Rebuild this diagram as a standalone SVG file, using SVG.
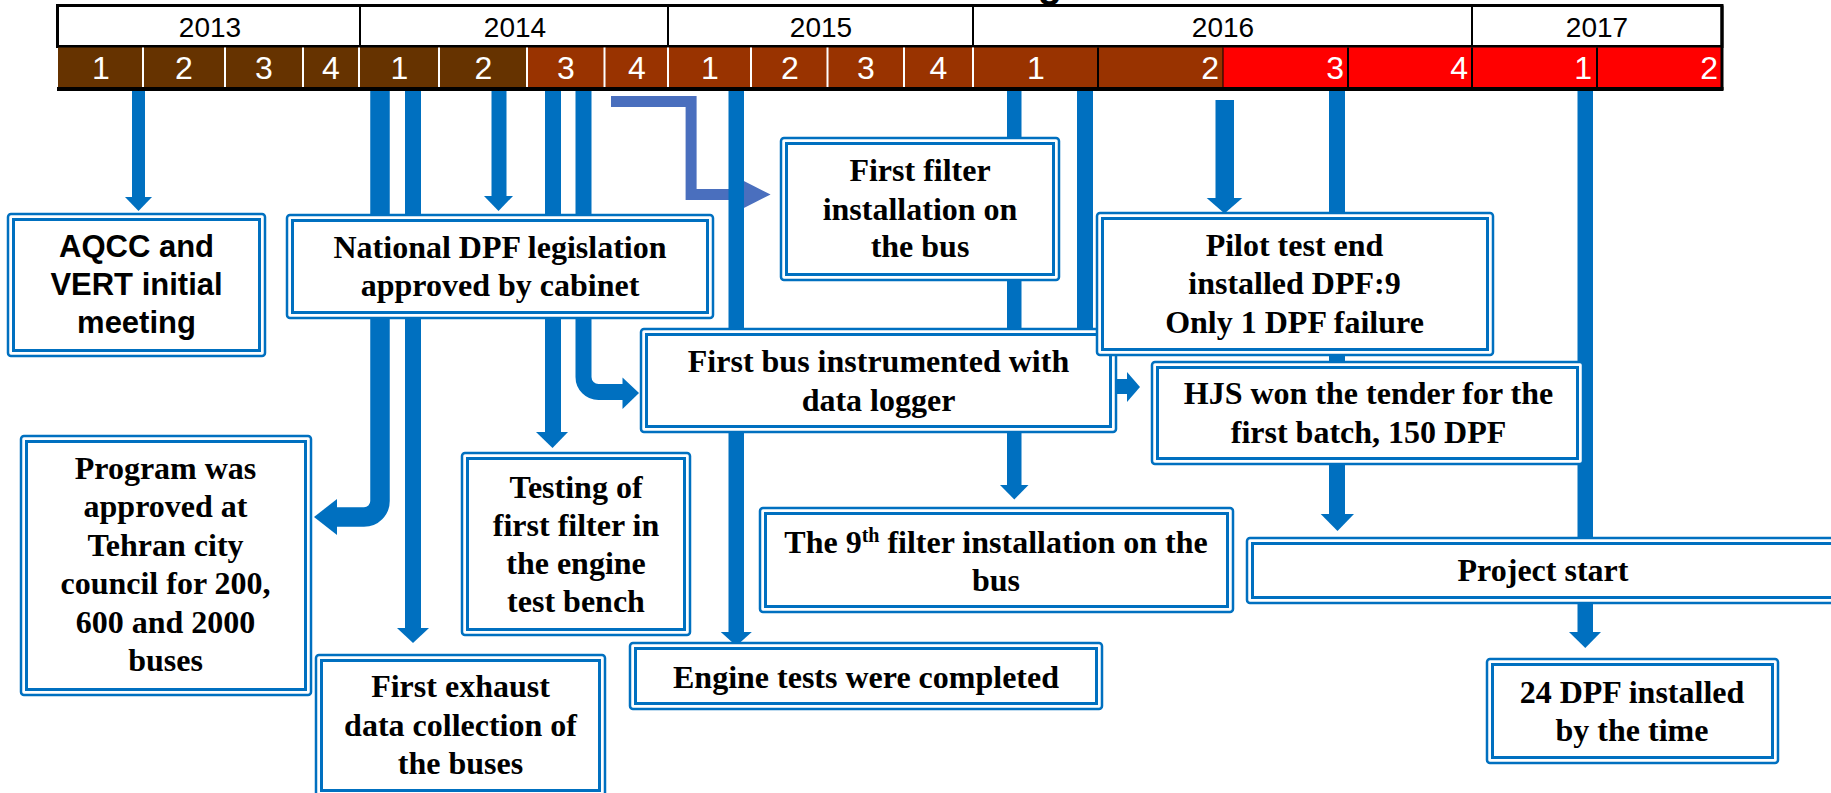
<svg xmlns="http://www.w3.org/2000/svg" width="1831" height="793" viewBox="0 0 1831 793">
<style>
.bo{fill:#fff;stroke:#0070C0;stroke-width:2.5}
.bi{fill:none;stroke:#0070C0;stroke-width:3}
.t{font-family:"Liberation Serif","Times New Roman",serif;font-weight:bold;font-size:32px;text-anchor:middle;fill:#000}
.ts{font-family:"Liberation Sans",Arial,sans-serif;font-weight:bold;font-size:31px;text-anchor:middle;fill:#000}
.yr{font-family:"Liberation Sans",Arial,sans-serif;font-size:28px;text-anchor:middle;fill:#000}
.q{font-family:"Liberation Sans",Arial,sans-serif;font-size:32px;text-anchor:middle;fill:#fff}
.qr{font-family:"Liberation Sans",Arial,sans-serif;font-size:32px;text-anchor:end;fill:#fff}
.c1{fill:#663300}.c2{fill:#993300}.c3{fill:#FF0000}
.bar{fill:#0070C0}
.cs{fill:none;stroke:#0070C0}
.wd{stroke:#fff;stroke-width:2}
.bd{stroke:#000;stroke-width:2}
</style>
<rect width="1831" height="793" fill="#fff"/>
<text x="1050" y="-3" style="font-family:'Liberation Sans',Arial,sans-serif;font-weight:bold;font-size:40px;text-anchor:middle">g</text>
<g id="header">
  <rect x="57.5" y="5.5" width="1664.5" height="41" fill="#fff" stroke="#000" stroke-width="3"/>
  <line x1="360" y1="5.5" x2="360" y2="46" class="bd"/>
  <line x1="668" y1="5.5" x2="668" y2="46" class="bd"/>
  <line x1="973" y1="5.5" x2="973" y2="46" class="bd"/>
  <line x1="1472" y1="5.5" x2="1472" y2="46" class="bd"/>
  <text class="yr" x="210" y="37">2013</text>
  <text class="yr" x="515" y="37">2014</text>
  <text class="yr" x="821" y="37">2015</text>
  <text class="yr" x="1223" y="37">2016</text>
  <text class="yr" x="1597" y="37">2017</text>
  <rect class="c1" x="58" y="47.5" width="469" height="40"/>
  <rect class="c2" x="527" y="47.5" width="696" height="40"/>
  <rect class="c3" x="1223" y="47.5" width="499" height="40"/>
  <g>
    <line x1="143" y1="47.5" x2="143" y2="87.5" class="wd"/>
    <line x1="225" y1="47.5" x2="225" y2="87.5" class="wd"/>
    <line x1="303" y1="47.5" x2="303" y2="87.5" class="wd"/>
    <line x1="359" y1="47.5" x2="359" y2="87.5" class="wd"/>
    <line x1="439" y1="47.5" x2="439" y2="87.5" class="wd"/>
    <line x1="527" y1="47.5" x2="527" y2="87.5" class="wd"/>
    <line x1="604.5" y1="47.5" x2="604.5" y2="87.5" class="wd"/>
    <line x1="668" y1="47.5" x2="668" y2="87.5" class="wd"/>
    <line x1="751" y1="47.5" x2="751" y2="87.5" class="wd"/>
    <line x1="827.5" y1="47.5" x2="827.5" y2="87.5" class="wd"/>
    <line x1="904" y1="47.5" x2="904" y2="87.5" class="wd"/>
    <line x1="973" y1="47.5" x2="973" y2="87.5" class="wd"/>
    <line x1="1098" y1="47.5" x2="1098" y2="87.5" class="bd"/>
    <line x1="1223" y1="47.5" x2="1223" y2="87.5" class="bd" style="stroke-width:1"/>
    <line x1="1348" y1="47.5" x2="1348" y2="87.5" class="bd"/>
    <line x1="1472" y1="47.5" x2="1472" y2="87.5" class="bd"/>
    <line x1="1597" y1="47.5" x2="1597" y2="87.5" class="bd"/>
    <line x1="1722" y1="5.5" x2="1722" y2="90" class="bd" style="stroke-width:3"/>
  </g>
  <rect x="57" y="87" width="1666.5" height="4" fill="#000"/>
  <text class="q" x="101" y="79">1</text>
  <text class="q" x="184" y="79">2</text>
  <text class="q" x="264" y="79">3</text>
  <text class="q" x="331" y="79">4</text>
  <text class="q" x="399.5" y="79">1</text>
  <text class="q" x="483.5" y="79">2</text>
  <text class="q" x="566" y="79">3</text>
  <text class="q" x="637" y="79">4</text>
  <text class="q" x="710" y="79">1</text>
  <text class="q" x="790" y="79">2</text>
  <text class="q" x="866" y="79">3</text>
  <text class="q" x="938.5" y="79">4</text>
  <text class="q" x="1036" y="79">1</text>
  <text class="qr" x="1219" y="79">2</text>
  <text class="qr" x="1344" y="79">3</text>
  <text class="qr" x="1468" y="79">4</text>
  <text class="qr" x="1592" y="79">1</text>
  <text class="qr" x="1718" y="79">2</text>
</g>
<g id="connectors">
  <polygon fill="#4A6FBE" points="611,96 696.6,96 696.6,189 738,189 738,178 770.6,194.5 738,211 738,200 685.6,200 685.6,107 611,107"/>
  <!-- AQCC -->
  <rect class="bar" x="132" y="91" width="13" height="107"/>
  <polygon class="bar" points="125,197 152,197 138.5,211"/>
  <!-- Program curved -->
  <path class="cs" stroke-width="19.5" d="M380 91 V501 A16 16 0 0 1 364 517 H335"/>
  <polygon class="bar" points="337,499 337,535 314,517"/>
  <!-- First exhaust -->
  <rect class="bar" x="405" y="91" width="16" height="538"/>
  <polygon class="bar" points="397,628 429,628 413,643"/>
  <!-- National -->
  <rect class="bar" x="491.5" y="91" width="15" height="106"/>
  <polygon class="bar" points="484,196 513,196 498.5,211"/>
  <!-- Testing -->
  <rect class="bar" x="545" y="91" width="16" height="342"/>
  <polygon class="bar" points="536,432 568,432 552.5,448"/>
  <!-- First bus curved -->
  <path class="cs" stroke-width="16" d="M583.5 91 V377 A15 15 0 0 0 598.5 392 H625"/>
  <polygon class="bar" points="622.5,377.5 622.5,409 639,393"/>
  <!-- Engine tests -->
  <rect class="bar" x="728.5" y="91" width="15.5" height="542"/>
  <polygon class="bar" points="720.8,632 751.8,632 736.3,646"/>
  <!-- 9th filter -->
  <rect class="bar" x="1007" y="91" width="14.5" height="395"/>
  <polygon class="bar" points="1000,485 1028.5,485 1014.3,499.5"/>
  <!-- First bus / HJS -->
  <rect class="bar" x="1077" y="91" width="16" height="250"/>
  <rect class="bar" x="1113" y="379" width="15" height="15"/>
  <polygon class="bar" points="1127,372 1127,402 1140,387"/>
  <!-- Pilot -->
  <rect class="bar" x="1215.5" y="100" width="18.5" height="99"/>
  <polygon class="bar" points="1206.7,198 1242.3,198 1224.5,213.5"/>
  <!-- Project start -->
  <rect class="bar" x="1329" y="91" width="16" height="425"/>
  <polygon class="bar" points="1320.7,514 1354,514 1337.5,531"/>
  <!-- 24 DPF -->
  <rect class="bar" x="1577.5" y="91" width="15.5" height="542"/>
  <polygon class="bar" points="1569,632 1601,632 1585.3,648"/>
</g>
<g id="n-aqcc">
  <rect class="bo" x="8" y="214" width="257" height="142" rx="3"/>
  <rect class="bi" x="13.5" y="219.5" width="246" height="131"/>
  <text class="ts" x="136.5" y="257">AQCC and</text>
  <text class="ts" x="136.5" y="295">VERT initial</text>
  <text class="ts" x="136.5" y="333">meeting</text>
</g>
<g id="n-national">
  <rect class="bo" x="287" y="215" width="426" height="103" rx="3"/>
  <rect class="bi" x="292.5" y="220.5" width="415" height="92"/>
  <text class="t" x="500" y="258">National DPF legislation</text>
  <text class="t" x="500" y="296">approved by cabinet</text>
</g>
<g id="n-firstfilter">
  <rect class="bo" x="781" y="138" width="278" height="142" rx="3"/>
  <rect class="bi" x="786.5" y="143.5" width="267" height="131"/>
  <text class="t" x="920" y="181">First filter</text>
  <text class="t" x="920" y="219.5">installation on</text>
  <text class="t" x="920" y="257">the bus</text>
</g>
<g id="n-firstbus">
  <rect class="bo" x="641" y="329" width="475" height="103" rx="3"/>
  <rect class="bi" x="646.5" y="334.5" width="464" height="92"/>
  <text class="t" x="878.5" y="372">First bus instrumented with</text>
  <text class="t" x="878.5" y="411">data logger</text>
</g>
<g id="n-pilot">
  <rect class="bo" x="1097" y="213" width="396" height="142" rx="3"/>
  <rect class="bi" x="1102.5" y="218.5" width="385" height="131"/>
  <text class="t" x="1294.5" y="256">Pilot test end</text>
  <text class="t" x="1294.5" y="294">installed DPF:9</text>
  <text class="t" x="1294.5" y="332.5">Only 1 DPF failure</text>
</g>
<g id="n-hjs">
  <rect class="bo" x="1152" y="362" width="431" height="102" rx="3"/>
  <rect class="bi" x="1157.5" y="367.5" width="420" height="91"/>
  <text class="t" x="1368.5" y="404">HJS won the tender for the</text>
  <text class="t" x="1368.5" y="443">first batch, 150 DPF</text>
</g>
<g id="n-program">
  <rect class="bo" x="21" y="436" width="290" height="259" rx="3"/>
  <rect class="bi" x="26.5" y="441.5" width="279" height="248"/>
  <text class="t" x="165.5" y="479">Program was</text>
  <text class="t" x="165.5" y="517">approved at</text>
  <text class="t" x="165.5" y="556">Tehran city</text>
  <text class="t" x="165.5" y="594">council for 200,</text>
  <text class="t" x="165.5" y="633">600 and 2000</text>
  <text class="t" x="165.5" y="671">buses</text>
</g>
<g id="n-testing">
  <rect class="bo" x="462" y="453" width="228" height="182" rx="3"/>
  <rect class="bi" x="467.5" y="458.5" width="217" height="171"/>
  <text class="t" x="576" y="497.5">Testing of</text>
  <text class="t" x="576" y="535.5">first filter in</text>
  <text class="t" x="576" y="574">the engine</text>
  <text class="t" x="576" y="612">test bench</text>
</g>
<g id="n-exhaust">
  <rect class="bo" x="316" y="655" width="289" height="141" rx="3"/>
  <rect class="bi" x="321.5" y="660.5" width="278" height="130"/>
  <text class="t" x="460.5" y="697">First exhaust</text>
  <text class="t" x="460.5" y="735.5">data collection of</text>
  <text class="t" x="460.5" y="774">the buses</text>
</g>
<g id="n-ninth">
  <rect class="bo" x="760" y="508" width="473" height="104" rx="3"/>
  <rect class="bi" x="765.5" y="513.5" width="462" height="93"/>
  <text class="t" x="996" y="553">The 9<tspan dy="-11" style="font-size:20px">th</tspan><tspan dy="11"> filter installation on the</tspan></text>
  <text class="t" x="996" y="590.5">bus</text>
</g>
<g id="n-engine">
  <rect class="bo" x="630" y="643" width="472" height="66" rx="3"/>
  <rect class="bi" x="635.5" y="648.5" width="461" height="55"/>
  <text class="t" x="866" y="687.5">Engine tests were completed</text>
</g>
<g id="n-project">
  <rect class="bo" x="1247" y="538" width="592" height="65" rx="3"/>
  <rect class="bi" x="1252.5" y="543.5" width="581" height="54"/>
  <text class="t" x="1543" y="581">Project start</text>
</g>
<g id="n-24dpf">
  <rect class="bo" x="1487" y="659" width="291" height="104" rx="3"/>
  <rect class="bi" x="1492.5" y="664.5" width="280" height="93"/>
  <text class="t" x="1632" y="702.5">24 DPF installed</text>
  <text class="t" x="1632" y="741">by the time</text>
</g>
</svg>
